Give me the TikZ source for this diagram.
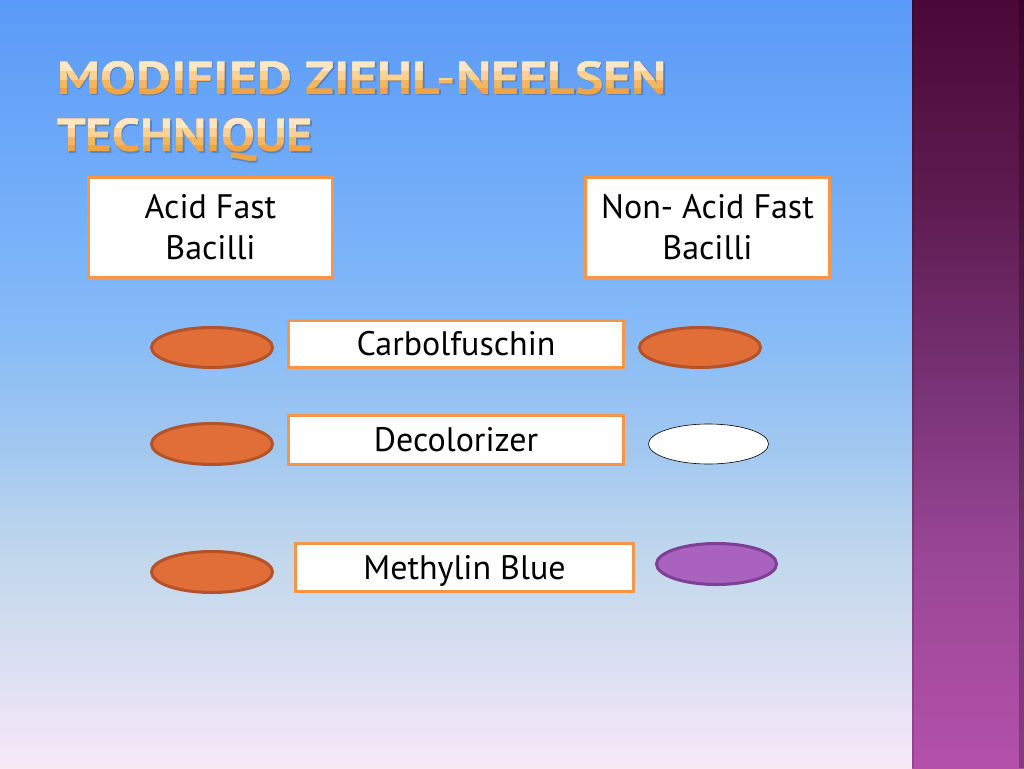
\documentclass[tikz,border=0pt]{standalone}
\usepackage{fontspec}
\setmainfont{PT Sans}
\usetikzlibrary{shapes.geometric}
\definecolor{boxorange}{HTML}{F79646}
\definecolor{cellfill}{HTML}{E06E36}
\definecolor{celldraw}{HTML}{B4522A}
\definecolor{purfill}{HTML}{A962BE}
\definecolor{purdraw}{HTML}{7D3F97}
\definecolor{titleA}{HTML}{FFE6C4}
\definecolor{titleB}{HTML}{FBD194}
\definecolor{titleC}{HTML}{F5B660}
\definecolor{titleD}{HTML}{F0A444}
\definecolor{bgA}{HTML}{5A9AF8}
\definecolor{bgB}{HTML}{74AEF9}
\definecolor{bgC}{HTML}{84BAF8}
\definecolor{bgD}{HTML}{A2C8F0}
\definecolor{bgE}{HTML}{C2D8EC}
\definecolor{bgF}{HTML}{E4E2F4}
\definecolor{bgG}{HTML}{F8E8F8}
\definecolor{stA}{HTML}{4A0838}
\definecolor{stB}{HTML}{5E1B50}
\definecolor{stC}{HTML}{7A3478}
\definecolor{stD}{HTML}{9A4796}
\definecolor{stE}{HTML}{B450AA}
% path box maps to 25bp..75bp of the shading
\pgfdeclareverticalshading{bgshade}{100bp}{color(0bp)=(bgG); color(25bp)=(bgG); color(29.45bp)=(bgF); color(38.5bp)=(bgE); color(45.7bp)=(bgD); color(54.15bp)=(bgC); color(62bp)=(bgB); color(75bp)=(bgA); color(100bp)=(bgA)}
\pgfdeclareverticalshading{stripeshade}{100bp}{color(0bp)=(stE); color(25bp)=(stE); color(38.5bp)=(stD); color(49bp)=(stC); color(62bp)=(stB); color(75bp)=(stA); color(100bp)=(stA)}
\newcommand{\lineone}{\resizebox{610pt}{33pt}{MODIFIED ZIEHL-NEELSEN}}
\newcommand{\linetwo}{\resizebox{256pt}{33pt}{TECHNIQUE}}
\tikzset{
  labelbox/.style={draw=boxorange, line width=3pt, fill=white, inner sep=0pt,
    font=\fontsize{34}{41}\selectfont, text height=23pt, text depth=0pt},
  cell/.style={ellipse, draw=celldraw, fill=cellfill, line width=3pt, inner sep=0pt,
    minimum width=121pt, minimum height=40pt},
  titletext/.style={anchor=base west, inner sep=0pt, text=titleD, font=\bfseries\fontsize{47}{50}\selectfont},
}
\begin{document}
\begin{tikzpicture}[x=1pt,y=-1pt]
\useasboundingbox (0,0) rectangle (1024,768);
\shade[shading=bgshade] (0,0) rectangle (912,768);
\shade[shading=stripeshade] (912,0) rectangle (1024,768);
\fill[black, opacity=0.25] (1019,0) rectangle (1024,768);
\fill[black, opacity=0.15] (912,0) rectangle (914,768);
% title shadow
\node[titletext, text=black, opacity=0.2] (t1s) at (58.5,95.5) {\lineone};
\node[titletext, text=black, opacity=0.2] (t2s) at (58.5,153.2) {\linetwo};
% title, base colour
\node[titletext] (t1) at (57,94) {\lineone};
\node[titletext] (t2) at (57,151.7) {\linetwo};
% title, lighter upper bands
\begin{scope}
  \clip (40,40) rectangle (700,87) (40,100) rectangle (700,144.7);
  \node[titletext, text=titleC] (t1c) at (57,94) {\lineone};
  \node[titletext, text=titleC] (t2c) at (57,151.7) {\linetwo};
\end{scope}
\begin{scope}
  \clip (40,40) rectangle (700,79) (40,100) rectangle (700,136.7);
  \node[titletext, text=titleB] (t1b) at (57,94) {\lineone};
  \node[titletext, text=titleB] (t2b) at (57,151.7) {\linetwo};
\end{scope}
\begin{scope}
  \clip (40,40) rectangle (700,70) (40,100) rectangle (700,127.7);
  \node[titletext, text=titleA] (t1a) at (57,94) {\lineone};
  \node[titletext, text=titleA] (t2a) at (57,151.7) {\linetwo};
\end{scope}
% header boxes
\node[labelbox, minimum width=244pt, minimum height=100pt, align=center, text height=64pt] (afb) at (210.5,227) {Acid Fast\\Bacilli};
\node[labelbox, minimum width=244pt, minimum height=100pt, align=center, text height=64pt] (nafb) at (707.5,227) {Non- Acid Fast\\Bacilli};
% step boxes
\node[labelbox, minimum width=335pt, minimum height=47pt] (carb) at (456,344) {Carbolfuschin};
\node[labelbox, minimum width=335pt, minimum height=49pt] (deco) at (456,440) {Decolorizer};
\node[labelbox, minimum width=338pt, minimum height=48pt] (meth) at (464.5,567.5) {Methylin Blue};
% cells
\node[cell] (l1) at (212,347.5) {};
\node[cell, minimum height=41pt] (l2) at (212,444) {};
\node[cell, minimum height=41pt] (l3) at (212,572) {};
\node[cell] (r1) at (700,347.5) {};
\node[ellipse, draw=black, line width=0.6pt, fill=white, inner sep=0pt, minimum width=120pt, minimum height=40pt] (r2) at (708.5,444) {};
\node[cell, draw=purdraw, fill=purfill, minimum width=120pt, minimum height=41pt] (r3) at (716.5,564) {};
\end{tikzpicture}
\end{document}
